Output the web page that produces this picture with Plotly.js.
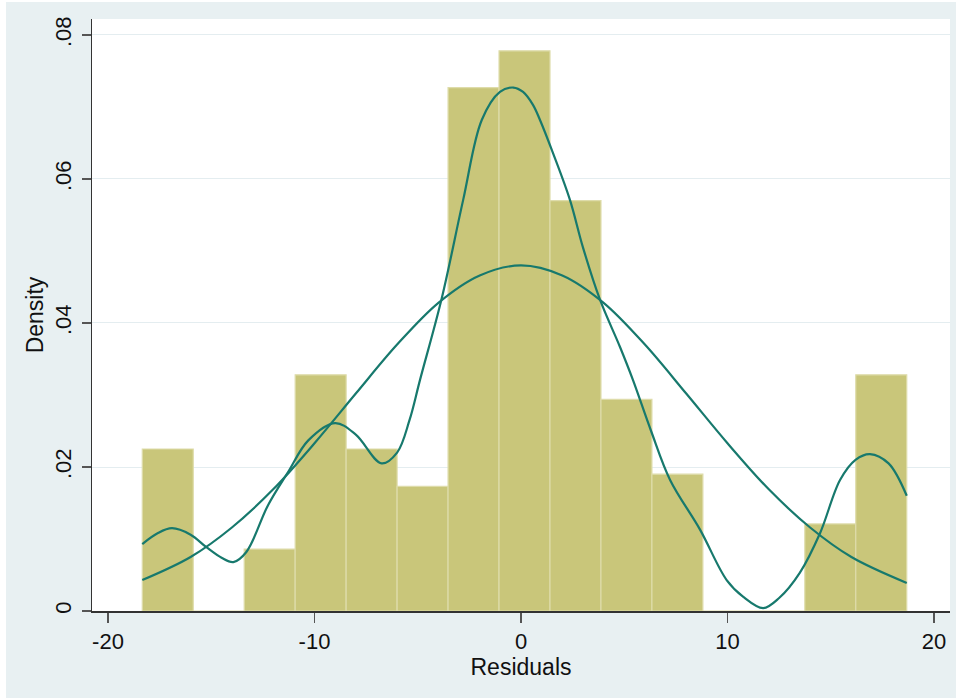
<!DOCTYPE html>
<html>
<head>
<meta charset="utf-8">
<script src="https://cdn.plot.ly/plotly-3.0.1.min.js"></script>
<style>
  html, body { margin: 0; padding: 0; background: #ffffff; }
  #chart { position: absolute; left: 6px; top: 2px; width: 950px; height: 696px; }
</style>
</head>
<body>
<div id="chart"></div>
<script>
// Histogram bins (centers) and density heights
const binCenters = [-17.106, -14.638, -12.17, -9.702, -7.234, -4.766, -2.298, 0.17, 2.638, 5.106, 7.574, 10.042, 12.51, 14.978, 17.446];
const binWidth = 2.468;
const binDensity = [0.0225, 0, 0.0086, 0.0328, 0.0225, 0.0173, 0.0727, 0.0778, 0.0570, 0.0294, 0.0190, 0, 0, 0.0121, 0.0328];

// Kernel density curve
const kdeX = [-18.34, -17.6, -16.9, -16.0, -15.25, -14.5, -13.93, -13.3, -12.25, -11.28, -10.3, -9.0, -8.0, -6.75, -6.0, -5.4, -4.89, -3.84, -2.8, -1.9, -1.02, -0.37, 0.1, 0.58, 0.92, 1.55, 2.37, 3.0, 3.83, 4.79, 5.42, 6.3, 7.22, 8.67, 9.96, 10.75, 11.73, 12.5, 13.5, 14.48, 15.45, 16.2, 16.9, 17.8, 18.68];
const kdeY = [0.0093, 0.0108, 0.0115, 0.0106, 0.0089, 0.0074, 0.0068, 0.0082, 0.0147, 0.0193, 0.0237, 0.0261, 0.0245, 0.0205, 0.0220, 0.0265, 0.0321, 0.0434, 0.0571, 0.0682, 0.0721, 0.0727, 0.0721, 0.0703, 0.0682, 0.0636, 0.0571, 0.0505, 0.0432, 0.0367, 0.0321, 0.0250, 0.0182, 0.0113, 0.0043, 0.0020, 0.0004, 0.0018, 0.0053, 0.0108, 0.0182, 0.0210, 0.0218, 0.0205, 0.0160];

// Normal density curve
const normX = [-18.34, -16, -14, -12, -10, -8, -6, -4, -2, 0, 2, 4, 6, 8, 10, 12, 14, 16, 18.68];
const normY = [0.0043, 0.0075, 0.0116, 0.0169, 0.0233, 0.0302, 0.0370, 0.0428, 0.0466, 0.0480, 0.0466, 0.0428, 0.0370, 0.0302, 0.0233, 0.0169, 0.0116, 0.0075, 0.0039];

// Axis ticks
const xTickVals = [-20, -10, 0, 10, 20];
const xTickText = ["-20", "-10", "0", "10", "20"];
const yTickVals = [0, 0.02, 0.04, 0.06, 0.08];
const yTickText = ["0", ".02", ".04", ".06", ".08"];

const lineColor = "#17796d";

const traces = [
  {
    type: "bar",
    x: binCenters,
    y: binDensity,
    width: binCenters.map(() => binWidth),
    marker: { color: "#c9c67a", line: { color: "#dedcaa", width: 1.2 } },
    hoverinfo: "x+y"
  },
  {
    type: "scatter",
    mode: "lines",
    x: kdeX,
    y: kdeY,
    line: { color: lineColor, width: 2.2, shape: "spline", smoothing: 1 }
  },
  {
    type: "scatter",
    mode: "lines",
    x: normX,
    y: normY,
    line: { color: lineColor, width: 2.2, shape: "spline", smoothing: 1 }
  }
];

const layout = {
  width: 950,
  height: 696,
  paper_bgcolor: "#e8f0f2",
  plot_bgcolor: "#ffffff",
  showlegend: false,
  bargap: 0,
  margin: { l: 86, r: 6, t: 17, b: 87, pad: 0 },
  font: { family: "Liberation Sans, Arial, Helvetica, sans-serif", size: 22, color: "#111111" },
  xaxis: {
    range: [-20.775, 20.775],
    tickvals: xTickVals,
    ticktext: xTickText,
    ticks: "outside",
    ticklen: 10,
    tickwidth: 1.5,
    tickcolor: "#555555",
    showline: true,
    linecolor: "#333333",
    linewidth: 1.5,
    showgrid: false,
    zeroline: false,
    tickfont: { size: 22 },
    title: { text: "Residuals", font: { size: 23 }, standoff: 0 }
  },
  yaxis: {
    range: [0, 0.08222],
    tickvals: yTickVals,
    ticktext: yTickText,
    tickangle: -90,
    ticks: "outside",
    ticklen: 9,
    tickwidth: 1.5,
    tickcolor: "#555555",
    ticklabelstandoff: 2,
    showline: true,
    linecolor: "#333333",
    linewidth: 1.5,
    showgrid: true,
    gridcolor: "#e4edf0",
    gridwidth: 1,
    zeroline: false,
    tickfont: { size: 22 },
    title: { text: "Density", font: { size: 23 }, standoff: 0 }
  }
};

Plotly.newPlot("chart", traces, layout, { displayModeBar: false, staticPlot: true });
</script>
</body>
</html>
